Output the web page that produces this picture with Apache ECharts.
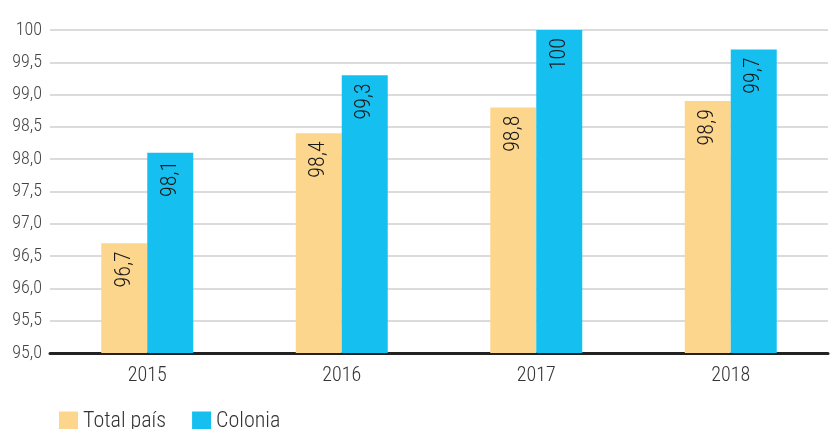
<!DOCTYPE html>
<html>
<head>
<meta charset="utf-8">
<script src="https://cdn.jsdelivr.net/npm/echarts@6/dist/echarts.min.js"></script>
<style>
  html, body { margin: 0; padding: 0; background: #fff; }
  #chart { width: 838px; height: 429px; }
</style>
</head>
<body>
<div id="chart"></div>
<script>
// datos
const years = ['2015', '2016', '2017', '2018']
const totalPais = [96.7, 98.4, 98.8, 98.9]
const colonia = [98.1, 99.3, 100, 99.7]

const font = '"Liberation Sans Narrow", "Roboto Condensed", Roboto, sans-serif'

function fmt (v) {
  if (v === 100) return '100'
  return v.toFixed(1).replace('.', ',')
}

const chart = echarts.init(document.getElementById('chart'))

const barLabel = {
  show: true,
  position: 'insideTop',
  rotate: 90,
  align: 'right',
  verticalAlign: 'middle',
  distance: 8,
  fontFamily: font,
  fontWeight: 300,
  fontSize: 22,
  color: '#1a1a1a',
  formatter: (p) => fmt(p.value)
}

chart.setOption({
  animation: false,
  textStyle: { fontFamily: font },
  grid: { left: 50, right: 10, top: 30, bottom: 76 },
  legend: {
    data: ['Total país', 'Colonia'],
    left: 54,
    top: 405,
    itemWidth: 19,
    itemHeight: 19,
    itemGap: 26,
    icon: 'rect',
    textStyle: { fontFamily: font, fontWeight: 300, fontSize: 22, color: '#333' }
  },
  xAxis: {
    type: 'category',
    data: years,
    axisTick: { show: false },
    axisLine: { lineStyle: { color: '#222', width: 3 } },
    axisLabel: { fontFamily: font, fontWeight: 300, fontSize: 20, color: '#333', margin: 13 }
  },
  yAxis: {
    type: 'value',
    min: 95,
    max: 100,
    interval: 0.5,
    axisLine: { show: false },
    axisTick: { show: false },
    splitLine: { lineStyle: { color: '#cfcfcf', width: 1.5 } },
    axisLabel: {
      fontFamily: font,
      fontWeight: 300,
      fontSize: 18,
      color: '#444',
      margin: 8,
      formatter: fmt
    }
  },
  series: [
    {
      name: 'Total país',
      type: 'bar',
      data: totalPais,
      barWidth: 46,
      barGap: '0%',
      itemStyle: { color: '#fdd68e' },
      label: barLabel
    },
    {
      name: 'Colonia',
      type: 'bar',
      data: colonia,
      barWidth: 46,
      barGap: '0%',
      itemStyle: { color: '#15c0f0' },
      label: barLabel
    }
  ]
})
</script>
</body>
</html>
